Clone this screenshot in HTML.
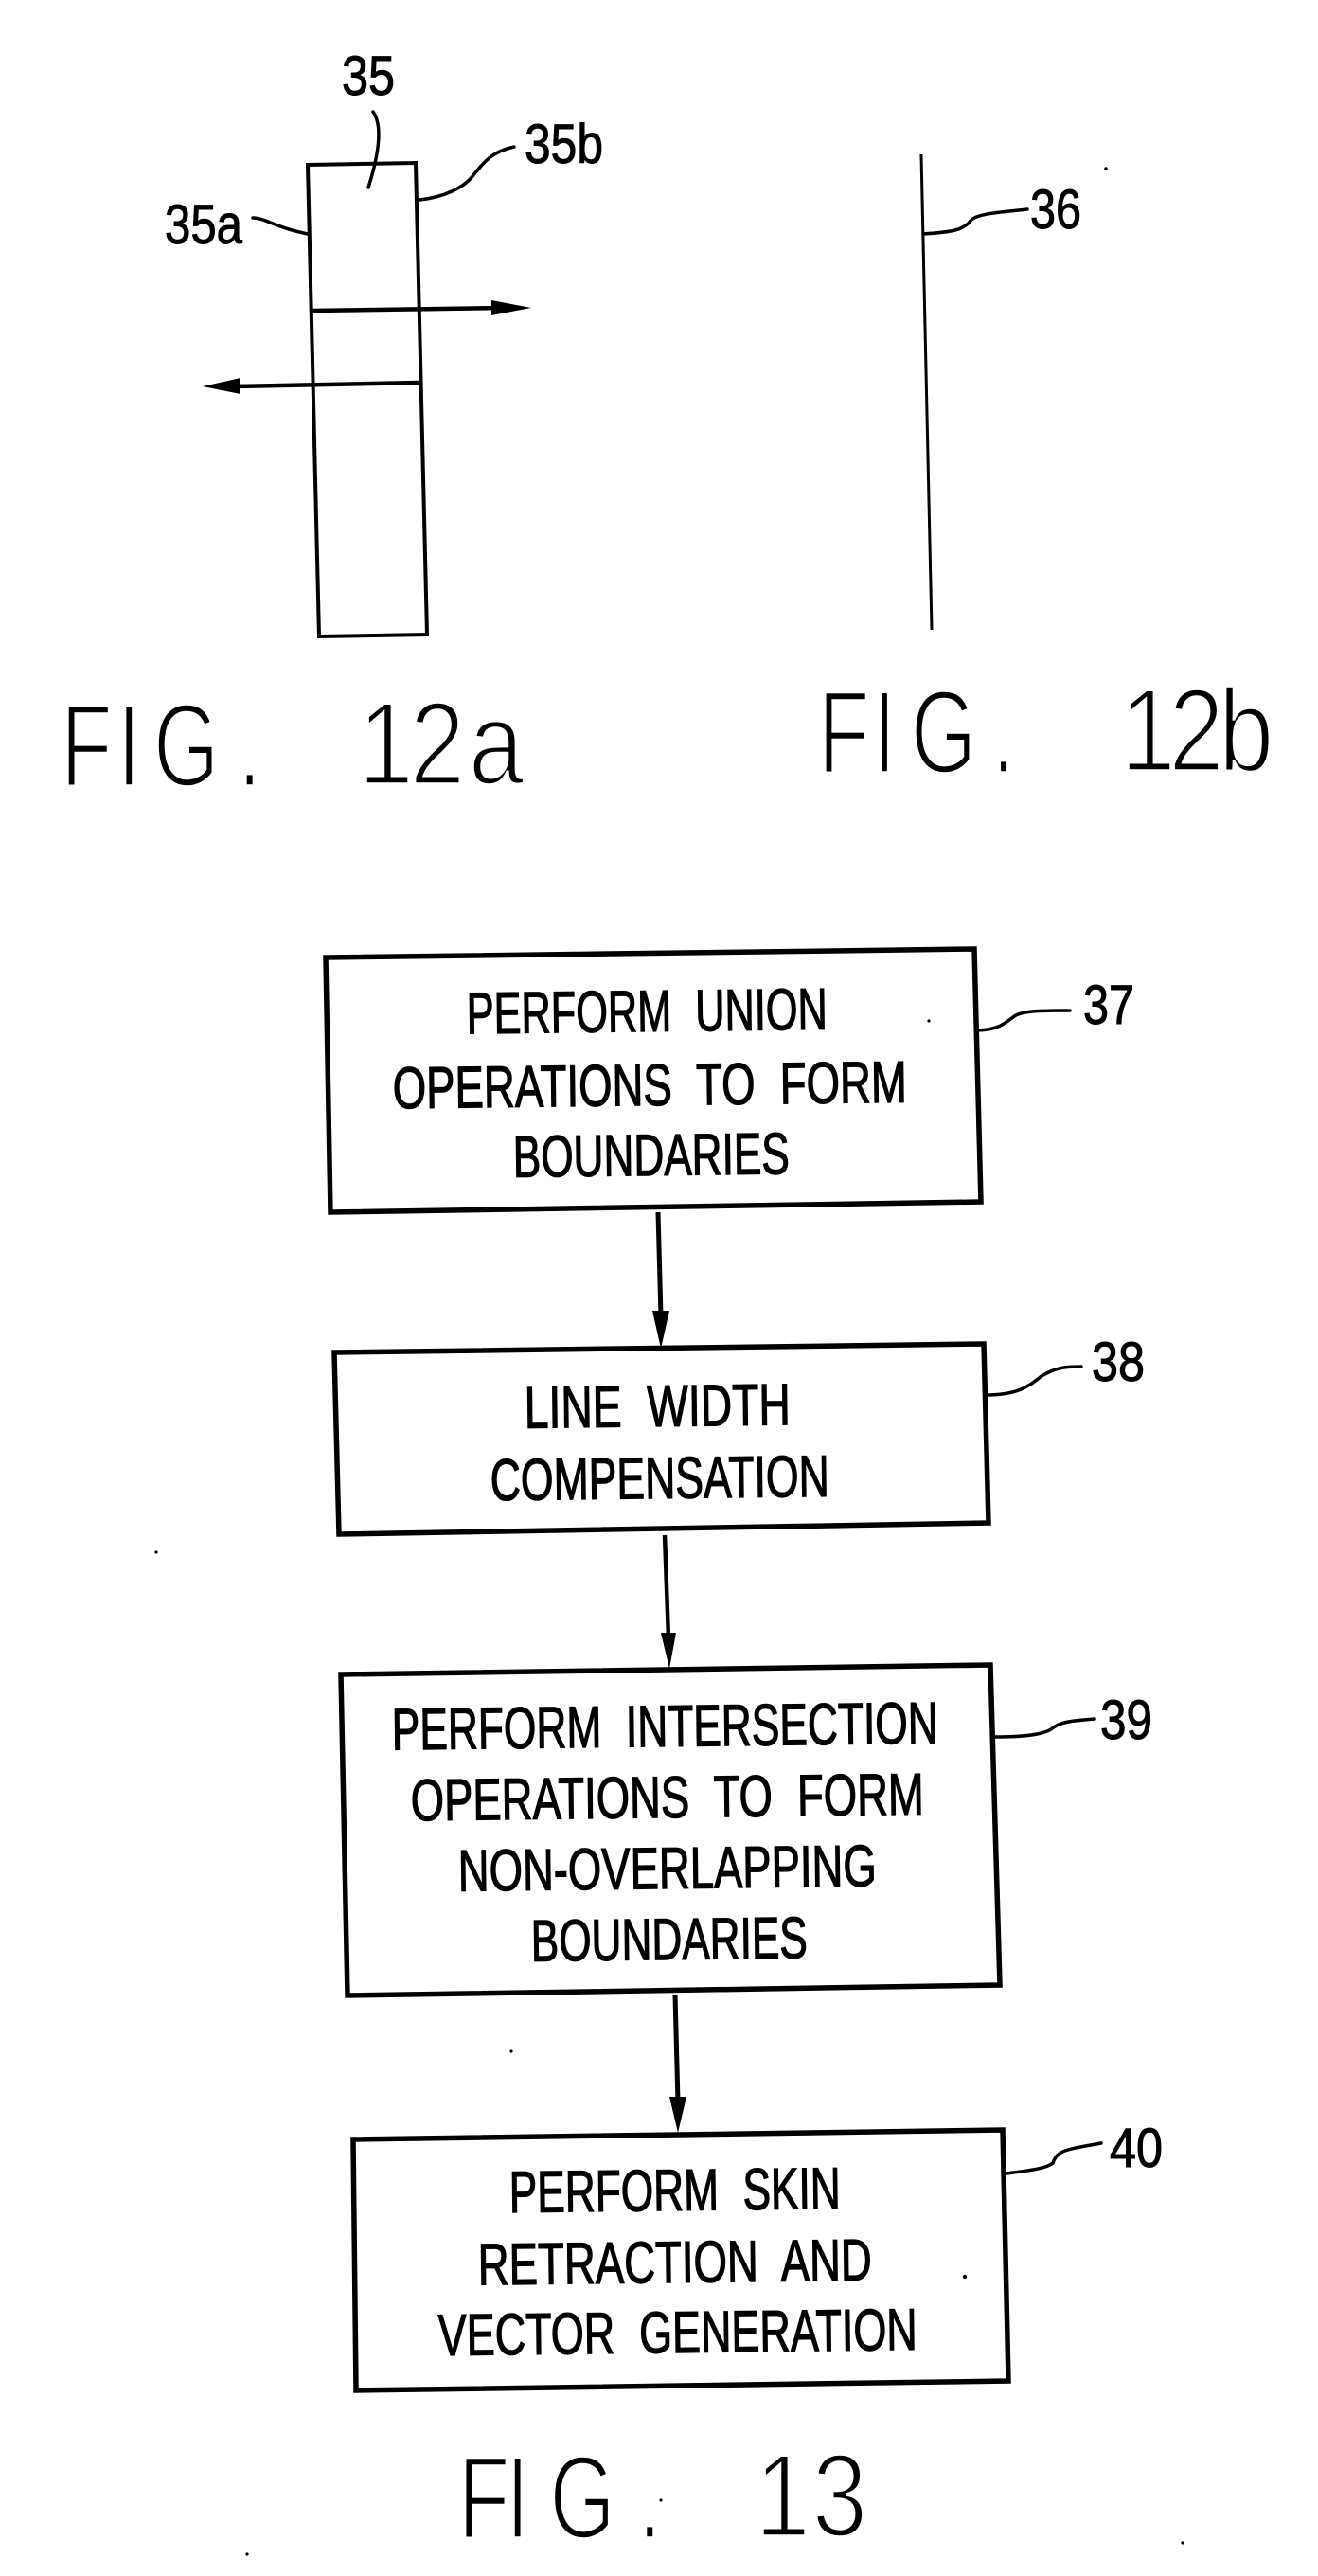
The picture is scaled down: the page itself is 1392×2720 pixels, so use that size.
<!DOCTYPE html>
<html>
<head>
<meta charset="utf-8">
<style>
html,body{margin:0;padding:0;background:#fff;width:1392px;height:2720px;overflow:hidden}
svg{display:block}
text{font-family:"Liberation Sans",sans-serif;fill:#000}
.b{fill:none;stroke:#000;stroke-width:5.5;stroke-linejoin:miter}
.l{fill:none;stroke:#000;stroke-width:3.5;stroke-linecap:round;stroke-linejoin:round}
.t{font-size:62px;stroke:#000;stroke-width:1.3;word-spacing:.3em}
.n{font-size:58px;stroke:#000;stroke-width:1}
.f{font-size:124px;stroke:#fff;stroke-width:3.5}
</style>
</head>
<body>
<svg width="1392" height="2720" viewBox="0 0 1392 2720" xmlns="http://www.w3.org/2000/svg">
<!-- FIG 12a -->
<polygon class="b" points="325,174 439,172 451,670 337,672" style="stroke-width:4"/>
<path class="l" d="M329,328 L530,325" style="stroke-width:4.5"/>
<polygon points="519,317 561,325 519,333"/>
<path class="l" d="M443,404 L245,408" style="stroke-width:4.5"/>
<polygon points="254,399 214,408 254,416"/>
<path class="l" d="M394,118 Q408,138 389,198"/>
<path class="l" d="M543,155 C520,160 512,170 500,185 C490,198 470,208 443,211"/>
<path class="l" d="M267,230 C280,230 290,240 325,247"/>
<text class="n" x="361" y="100" textLength="56" lengthAdjust="spacingAndGlyphs">35</text>
<text class="n" x="554" y="172" textLength="83" lengthAdjust="spacingAndGlyphs">35b</text>
<text class="n" x="174" y="257" textLength="82" lengthAdjust="spacingAndGlyphs">35a</text>
<text class="f" transform="scale(.72 1)" x="89 172 225 349" y="830">FIG.</text>
<text class="f" transform="scale(.85 1)" x="445 509 582" y="828">12a</text>
<!-- FIG 12b -->
<path d="M973,163 L984,665" fill="none" stroke="#000" stroke-width="3"/>
<path class="l" d="M975,247 C1005,245 1018,243 1025,233 C1032,225 1060,224 1085,221"/>
<text class="n" x="1088" y="241" textLength="54" lengthAdjust="spacingAndGlyphs">36</text>
<text class="f" transform="scale(.72 1)" x="1200 1280 1336 1455" y="816">FIG.</text>
<text class="f" transform="scale(.85 1)" x="1392 1452 1514" y="814">12b</text>
<!-- Box 37 -->
<polygon class="b" points="344,1011 1029,1002 1036,1269 349,1280"/>
<text class="t" x="493" y="1089" textLength="381" lengthAdjust="spacingAndGlyphs" transform="rotate(-.7 683 1089)">PERFORM UNION</text>
<text class="t" x="415" y="1167" textLength="543" lengthAdjust="spacingAndGlyphs" transform="rotate(-.7 686 1167)">OPERATIONS TO FORM</text>
<text class="t" x="542" y="1241" textLength="292" lengthAdjust="spacingAndGlyphs" transform="rotate(-.7 688 1241)">BOUNDARIES</text>
<path class="l" d="M1033,1088 C1055,1087 1062,1080 1070,1074 C1078,1067 1100,1067 1130,1067"/>
<text class="n" x="1144" y="1081" textLength="54" lengthAdjust="spacingAndGlyphs">37</text>
<!-- Arrow -->
<path d="M695,1280 L698,1390" fill="none" stroke="#000" stroke-width="5"/>
<polygon points="689,1384 707,1384 698,1424"/>
<!-- Box 38 -->
<polygon class="b" points="353,1428 1039,1419 1044,1608 358,1620"/>
<text class="t" x="554" y="1506" textLength="281" lengthAdjust="spacingAndGlyphs" transform="rotate(-.7 694 1506)">LINE WIDTH</text>
<text class="t" x="518" y="1582" textLength="358" lengthAdjust="spacingAndGlyphs" transform="rotate(-.7 697 1582)">COMPENSATION</text>
<path class="l" d="M1045,1473 C1075,1472 1085,1465 1100,1453 C1115,1444 1125,1443 1142,1443"/>
<text class="n" x="1153" y="1458" textLength="56" lengthAdjust="spacingAndGlyphs">38</text>
<!-- Arrow -->
<path d="M702,1621 L706,1730" fill="none" stroke="#000" stroke-width="4.5"/>
<polygon points="698,1724 714,1724 707,1762"/>
<!-- Box 39 -->
<polygon class="b" points="360,1768 1046,1758 1056,2096 367,2107"/>
<text class="t" x="414" y="1844" textLength="577" lengthAdjust="spacingAndGlyphs" transform="rotate(-.7 702 1844)">PERFORM INTERSECTION</text>
<text class="t" x="434" y="1919" textLength="542" lengthAdjust="spacingAndGlyphs" transform="rotate(-.7 705 1919)">OPERATIONS TO FORM</text>
<text class="t" x="484" y="1994" textLength="442" lengthAdjust="spacingAndGlyphs" transform="rotate(-.7 705 1994)">NON-OVERLAPPING</text>
<text class="t" x="561" y="2069" textLength="292" lengthAdjust="spacingAndGlyphs" transform="rotate(-.7 707 2069)">BOUNDARIES</text>
<path class="l" d="M1051,1834 C1080,1834 1100,1832 1110,1826 C1120,1817 1135,1817 1156,1815"/>
<text class="n" x="1162" y="1836" textLength="55" lengthAdjust="spacingAndGlyphs">39</text>
<!-- Arrow -->
<path d="M713,2106 L716,2220" fill="none" stroke="#000" stroke-width="5"/>
<polygon points="707,2214 725,2214 716,2252"/>
<!-- Box 40 -->
<polygon class="b" points="373,2259 1059,2249 1065,2514 376,2524"/>
<text class="t" x="538" y="2334" textLength="350" lengthAdjust="spacingAndGlyphs" transform="rotate(-.7 713 2334)">PERFORM SKIN</text>
<text class="t" x="505" y="2410" textLength="416" lengthAdjust="spacingAndGlyphs" transform="rotate(-.7 713 2410)">RETRACTION AND</text>
<text class="t" x="463" y="2484" textLength="506" lengthAdjust="spacingAndGlyphs" transform="rotate(-.7 716 2484)">VECTOR GENERATION</text>
<path class="l" d="M1063,2295 C1085,2292 1105,2290 1112,2284 C1117,2270 1125,2270 1163,2263"/>
<text class="n" x="1172" y="2288" textLength="56" lengthAdjust="spacingAndGlyphs">40</text>
<!-- FIG 13 -->
<text class="f" transform="scale(.72 1)" x="672 742 806 936" y="2680">FIG.</text>
<text class="f" transform="scale(.85 1)" x="938 1009" y="2678">13</text>
<!-- specks -->
<g fill="#000">
<circle cx="1168" cy="178" r="1.8"/>
<circle cx="981" cy="1078" r="1.6"/>
<circle cx="696" cy="1398" r="1.6"/>
<circle cx="165" cy="1639" r="1.6"/>
<circle cx="540" cy="2166" r="1.6"/>
<circle cx="1019" cy="2404" r="2.2"/>
<circle cx="698" cy="2640" r="1.6"/>
<circle cx="1249" cy="2685" r="1.6"/>
<circle cx="261" cy="2697" r="1.6"/>
</g>
</svg>
</body>
</html>
